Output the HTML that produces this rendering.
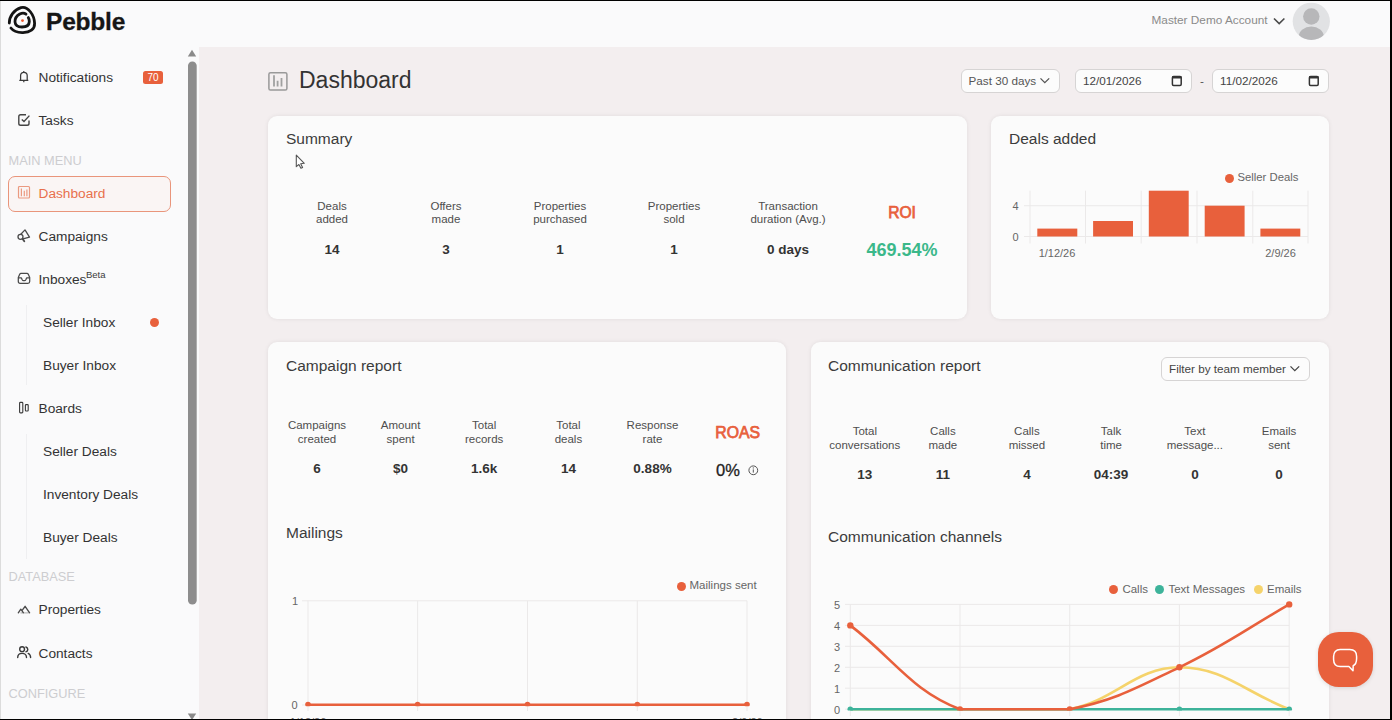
<!DOCTYPE html>
<html><head><meta charset="utf-8">
<style>
*{margin:0;padding:0;box-sizing:border-box}
html,body{width:1392px;height:720px;overflow:hidden;background:#f3eeef;font-family:"Liberation Sans",sans-serif;color:#333}
.a{position:absolute;line-height:1;white-space:nowrap}
.c{position:absolute;width:160px;text-align:center;white-space:nowrap}
#hdr{position:absolute;left:0;top:0;width:1392px;height:46.6px;background:#fafafb}
#side{position:absolute;left:0;top:46px;width:198.5px;height:674px;background:#fafafb}
.nav{font-size:13.7px;color:#333}
.sec{font-size:12.8px;color:#cdcdd0}
.card{position:absolute;background:#fbfbfb;border-radius:9px;box-shadow:0 0 4px rgba(0,0,0,0.08)}
.ttl{font-size:15.5px;color:#3c3c3c}
.lbl{font-size:11.5px;line-height:13.5px;color:#4e4e4e}
.val{font-size:13.5px;line-height:1;font-weight:bold;color:#333}
.box{position:absolute;background:#fcfcfc;border:1px solid #d6d4d4;border-radius:6px}
.ax{font-size:11px;color:#666}
</style></head><body>
<div id="hdr"></div>
<div id="side"></div>

<!-- header -->
<svg class="a" style="left:0;top:0" width="40" height="40" viewBox="0 0 40 40">
<path d="M9.3 23 C9.2 16.4 14 9.6 21 7.6 C28 5.8 34.4 15.2 34.6 23.4 C34.8 29.5 30 32.4 23 32.6 C17 32.8 13.2 31 10.9 28" fill="none" stroke="#141414" stroke-width="2.8" stroke-linecap="round"/>
<path d="M26 14.2 C24.4 12.9 21.9 12.9 19.8 14 C16.4 15.9 14.8 19.2 15 22 C15.3 25.4 18.5 27 22 27 C26 27 29.2 25.4 29.3 21.6 C29.3 19.8 29 18.6 28.3 17.6" fill="none" stroke="#141414" stroke-width="2.8" stroke-linecap="round"/>
<circle cx="22.5" cy="20.6" r="1.4" fill="#ee5a2f"/>
</svg>
<div class="a" style="left:46px;top:10px;font-size:24.5px;font-weight:bold;color:#161616;letter-spacing:-0.2px;-webkit-text-stroke:0.3px #161616">Pebble</div>
<div class="a" style="left:1151.5px;top:15.2px;font-size:11.8px;color:#8a8a8a">Master Demo Account</div>
<svg class="a" style="left:1272px;top:16px" width="15" height="10"><path d="M2 2.5 L7.2 7.6 L12.4 2.5" fill="none" stroke="#4a4a4a" stroke-width="1.6"/></svg>
<svg class="a" style="left:1292px;top:2px" width="39" height="39" viewBox="0 0 39 39">
<defs><clipPath id="av"><circle cx="19.3" cy="19.3" r="18.6"/></clipPath></defs>
<circle cx="19.3" cy="19.3" r="18.6" fill="#e1e2e4"/>
<g clip-path="url(#av)"><circle cx="19.3" cy="14.5" r="8.2" fill="#b7b7b9"/><ellipse cx="19.3" cy="34.5" rx="12.5" ry="10" fill="#b7b7b9"/></g>
</svg>

<!-- sidebar -->
<div style="position:absolute;left:26px;top:305px;width:1px;height:80px;background:#efeff1"></div>
<div style="position:absolute;left:26px;top:434px;width:1px;height:125px;background:#efeff1"></div>
<!-- scrollbar -->
<svg class="a" style="left:186px;top:47px" width="12" height="673">
<path d="M1.8 9.5 L10.2 9.5 L6 2.8 Z" fill="#8a8a8a"/>
<rect x="2" y="14.5" width="8.7" height="543" rx="4.3" fill="#8d8d8d"/>
<path d="M1.8 666.5 L10.2 666.5 L6 673 Z" fill="#8a8a8a"/>
</svg>

<svg class="a" style="left:17px;top:69px" width="14" height="15"><path d="M3.6 11.3 L3.6 6.6 C3.6 4.6 4.9 3.3 6.8 3.3 C8.7 3.3 10.2 4.6 10.2 6.6 L10.2 11.3 M2.3 11.4 L11.3 11.4 M6.8 1.9 V3.3 M6.8 12 V13.3" fill="none" stroke="#3a3a3a" stroke-width="1.25" stroke-linejoin="round"/></svg>
<div class="a nav" style="left:38.5px;top:70.9px">Notifications</div>
<div class="a" style="left:143px;top:70.5px;width:20px;height:13px;background:#e8603c;border-radius:2.5px;color:#fff;font-size:10px;line-height:13px;text-align:center">70</div>

<svg class="a" style="left:17px;top:113px" width="15" height="15"><path d="M12 7.5 L12 10.5 C12 11.6 11.3 12.3 10.2 12.3 L3.6 12.3 C2.5 12.3 1.8 11.6 1.8 10.5 L1.8 3.6 C1.8 2.5 2.5 1.8 3.6 1.8 L9 1.8" fill="none" stroke="#444" stroke-width="1.4"/><path d="M4.8 6.4 L7 8.5 L12.4 2.6" fill="none" stroke="#444" stroke-width="1.4"/></svg>
<div class="a nav" style="left:38.5px;top:113.7px">Tasks</div>

<div class="a sec" style="left:8.5px;top:155px">MAIN MENU</div>

<div style="position:absolute;left:8px;top:175.5px;width:163px;height:36px;border:1px solid #e9957b;border-radius:7px;background:#faf5f4"></div>
<svg class="a" style="left:17px;top:185px" width="14" height="14"><rect x="1.5" y="1.5" width="11" height="11.5" rx="1" fill="none" stroke="#eb9a80" stroke-width="1.2"/><path d="M4.4 3.4 V11.2 M7.3 5.8 V11.2 M9.9 4.6 V11.2" stroke="#eb9a80" stroke-width="1.2"/></svg>
<div class="a nav" style="left:38.5px;top:186.7px;color:#e8704c">Dashboard</div>

<svg class="a" style="left:14px;top:225px" width="20" height="20"><path d="M6.8 9.3 L11 4.9 L15.5 12.1 L9 13.9" fill="none" stroke="#4a4a4a" stroke-width="1.3" stroke-linejoin="round" stroke-linecap="round"/><circle cx="6.5" cy="11.8" r="2.5" fill="none" stroke="#4a4a4a" stroke-width="1.3"/><path d="M8.6 13.9 L10.3 16.3" stroke="#4a4a4a" stroke-width="1.8" stroke-linecap="round"/></svg>
<div class="a nav" style="left:38.5px;top:229.7px">Campaigns</div>

<svg class="a" style="left:17px;top:271px" width="15" height="14"><path d="M4 2.4 H10 C10.6 2.4 10.9 2.6 11.2 3.1 L12.7 6.4 V10.6 C12.7 11.7 12 12.4 10.9 12.4 H3.1 C2 12.4 1.3 11.7 1.3 10.6 V6.4 L2.8 3.1 C3.1 2.6 3.4 2.4 4 2.4 Z M1.3 6.9 H4.4 L5.2 8.7 C5.5 9.3 5.9 9.6 6.5 9.6 H7.5 C8.1 9.6 8.5 9.3 8.8 8.7 L9.6 6.9 H12.7" fill="none" stroke="#4a4a4a" stroke-width="1.25" stroke-linejoin="round"/></svg>
<div class="a nav" style="left:38.5px;top:272.7px">Inboxes</div>
<div class="a" style="left:86px;top:270px;font-size:9.5px;color:#3a3a3a">Beta</div>

<div class="a nav" style="left:43px;top:315.7px">Seller Inbox</div>
<div style="position:absolute;left:150px;top:317.7px;width:9px;height:9px;border-radius:50%;background:#e8603c"></div>
<div class="a nav" style="left:43px;top:358.7px">Buyer Inbox</div>

<svg class="a" style="left:17px;top:400px" width="14" height="15"><rect x="2.6" y="2.4" width="3.2" height="10.5" rx="0.8" fill="none" stroke="#3a3a3a" stroke-width="1.1"/><rect x="8.4" y="4.6" width="2.8" height="6.4" rx="0.7" fill="none" stroke="#3a3a3a" stroke-width="1.1"/></svg>
<div class="a nav" style="left:38.5px;top:401.7px">Boards</div>
<div class="a nav" style="left:43px;top:444.7px">Seller Deals</div>
<div class="a nav" style="left:43px;top:487.7px">Inventory Deals</div>
<div class="a nav" style="left:43px;top:530.7px">Buyer Deals</div>

<div class="a sec" style="left:8.5px;top:571.4px">DATABASE</div>
<svg class="a" style="left:16px;top:603px" width="16" height="13"><path d="M4.5 9.9 H12.8" stroke="#b0b0b0" stroke-width="1.1"/><path d="M2.3 9.8 L4.8 6.2 L7.3 9.7 M6.7 6.7 L9.1 3.3 L13.6 9.8" fill="none" stroke="#4a4a4a" stroke-width="1.35" stroke-linejoin="round" stroke-linecap="round"/></svg>
<div class="a nav" style="left:38.5px;top:603.3px">Properties</div>
<svg class="a" style="left:16px;top:645px" width="16" height="15"><circle cx="6.1" cy="4.2" r="2.4" fill="none" stroke="#3a3a3a" stroke-width="1.4"/><path d="M1.7 12.5 C1.7 9.8 3.5 8.4 6.1 8.4 C8.7 8.4 10.5 9.8 10.5 12.5" fill="none" stroke="#3a3a3a" stroke-width="1.4" stroke-linecap="round"/><path d="M9.9 2 C11.1 2.4 11.8 3.3 11.8 4.4 C11.8 5.5 11.1 6.4 9.9 6.8 M12.2 8.4 C13.8 9.2 14.6 10.6 14.6 12.5" fill="none" stroke="#3a3a3a" stroke-width="1.4" stroke-linecap="round"/></svg>
<div class="a nav" style="left:38.5px;top:646.8px">Contacts</div>
<div class="a sec" style="left:8.5px;top:688px">CONFIGURE</div>

<!-- page title -->
<svg class="a" style="left:267px;top:71px" width="22" height="21"><rect x="1.9" y="1.7" width="18" height="17.4" rx="1.6" fill="none" stroke="#999" stroke-width="1.5"/><path d="M7 4.2 V15.4 M10.6 9.8 V15.4 M14.5 6.9 V15.4" stroke="#a0a0a0" stroke-width="1.8"/></svg>
<div class="a" style="left:299px;top:69px;font-size:23px;color:#333">Dashboard</div>

<div class="box" style="left:961px;top:69px;width:99px;height:23.5px"></div>
<div class="a" style="left:968.5px;top:74.7px;font-size:11.7px;color:#555">Past 30 days</div>
<svg class="a" style="left:1039px;top:76px" width="12" height="9"><path d="M1.5 2.4 L5.8 6.6 L10.2 2.4" fill="none" stroke="#555" stroke-width="1.3"/></svg>
<div class="box" style="left:1075px;top:69px;width:116.5px;height:23.5px"></div>
<div class="a" style="left:1083px;top:74.5px;font-size:11.7px;color:#444">12/01/2026</div>
<svg class="a" style="left:1171px;top:75px" width="12" height="12"><rect x="1.4" y="1.6" width="8.8" height="8.8" rx="1.2" fill="none" stroke="#333" stroke-width="1.5"/><rect x="1" y="1" width="9.6" height="2.6" rx="1" fill="#333"/></svg>
<div class="a" style="left:1200px;top:75px;font-size:11.7px;color:#555">-</div>
<div class="box" style="left:1212px;top:69px;width:117px;height:23.5px"></div>
<div class="a" style="left:1220px;top:74.5px;font-size:11.7px;color:#444">11/02/2026</div>
<svg class="a" style="left:1308px;top:75px" width="12" height="12"><rect x="1.4" y="1.6" width="8.8" height="8.8" rx="1.2" fill="none" stroke="#333" stroke-width="1.5"/><rect x="1" y="1" width="9.6" height="2.6" rx="1" fill="#333"/></svg>

<!-- cards -->
<div class="card" style="left:268px;top:115.5px;width:698.5px;height:203px"></div>
<div class="card" style="left:991px;top:116px;width:337.5px;height:202.5px"></div>
<div class="card" style="left:268px;top:341.5px;width:518px;height:420px"></div>
<div class="card" style="left:810.5px;top:341.5px;width:518px;height:420px"></div>

<!-- summary -->
<div class="a ttl" style="left:286px;top:131px">Summary</div>
<svg class="a" style="left:294px;top:154px" width="12" height="16"><path d="M2.3 1.2 L2.3 12.7 L4.9 10.5 L6.9 14.3 L8.6 13.5 L6.7 9.7 L10.3 9.3 Z" fill="#fff" stroke="#555" stroke-width="1.1" stroke-linejoin="round"/></svg>

<div class="c lbl" style="left:252px;top:199.7px">Deals<br>added</div>
<div class="c lbl" style="left:366px;top:199.7px">Offers<br>made</div>
<div class="c lbl" style="left:480px;top:199.7px">Properties<br>purchased</div>
<div class="c lbl" style="left:594px;top:199.7px">Properties<br>sold</div>
<div class="c lbl" style="left:708px;top:199.7px">Transaction<br>duration (Avg.)</div>
<div class="c" style="left:822px;top:205.3px;font-size:15.6px;line-height:1;color:#e8603c;-webkit-text-stroke:0.75px #e8603c">ROI</div>
<div class="c val" style="left:252px;top:242.6px">14</div>
<div class="c val" style="left:366px;top:242.6px">3</div>
<div class="c val" style="left:480px;top:242.6px">1</div>
<div class="c val" style="left:594px;top:242.6px">1</div>
<div class="c val" style="left:708px;top:242.6px">0 days</div>
<div class="c" style="left:822px;top:240.5px;font-size:18px;line-height:1;font-weight:bold;color:#3bb88a">469.54%</div>

<!-- deals added -->
<div class="a ttl" style="left:1009px;top:131.1px">Deals added</div>
<div style="position:absolute;left:1224.5px;top:173.5px;width:9px;height:9px;border-radius:50%;background:#e8603c"></div>
<div class="a ax" style="left:1237.5px;top:172.1px;font-size:11.3px">Seller Deals</div>
<svg class="a" style="left:0;top:0" width="1392" height="720">
<g stroke="#ebe9e9" stroke-width="1">
<path d="M1030 190.7 V243.5 M1085.5 190.7 V243.5 M1141.2 190.7 V243.5 M1197 190.7 V243.5 M1252.8 190.7 V243.5 M1308 190.7 V243.5"/>
<path d="M1024 205.7 H1308 M1024 236.5 H1308"/>
</g>
<g fill="#e8603c">
<rect x="1037.3" y="228.6" width="40" height="7.9"/>
<rect x="1093.1" y="221" width="39.9" height="15.5"/>
<rect x="1148.8" y="190.7" width="39.9" height="45.8"/>
<rect x="1204.7" y="205.7" width="39.9" height="30.8"/>
<rect x="1260.4" y="228.6" width="39.9" height="7.9"/>
</g>

<!-- mailings chart -->
<g stroke="#ebe9e9" stroke-width="1">
<path d="M302 600.8 H747 M302 705 H747"/>
<path d="M308 600.8 V711 M417.6 600.8 V711 M527.5 600.8 V711 M637.3 600.8 V711 M747 600.8 V711"/>
</g>
<path d="M308 704.8 H747" stroke="#e8603c" stroke-width="2.6"/>
<defs><clipPath id="cm"><rect x="290" y="590" width="480" height="116.2"/></clipPath><clipPath id="cc"><rect x="840" y="590" width="470" height="120.6"/></clipPath></defs>
<g fill="#e8603c" clip-path="url(#cm)"><circle cx="308" cy="704.5" r="2.8"/><circle cx="417.6" cy="704.5" r="2.8"/><circle cx="527.5" cy="704.5" r="2.8"/><circle cx="637.3" cy="704.5" r="2.8"/><circle cx="747" cy="704.5" r="2.8"/></g>

<!-- channels chart -->
<g stroke="#ebe9e9" stroke-width="1">
<path d="M845 604.4 H1289.2 M845 625.4 H1289.2 M845 646.3 H1289.2 M845 667.3 H1289.2 M845 688.2 H1289.2 M845 709.2 H1289.2"/>
<path d="M850.3 604.4 V716 M960 604.4 V716 M1069.7 604.4 V716 M1179.4 604.4 V716 M1289.2 604.4 V716"/>
</g>
<path d="M850.3 709.2 C894.2 709.2 916.1 709.2 960.0 709.2 C1003.9 709.2 1027.3 709.2 1069.7 709.2 C1115.1 700.5 1135.5 667.3 1179.4 667.3 C1223.3 667.3 1245.3 692.4 1289.2 709.2" fill="none" stroke="#f5d36b" stroke-width="2.6"/>
<path d="M850.3 709.2 H1289.2" fill="none" stroke="#3db39a" stroke-width="2.6"/>
<g fill="#3db39a" clip-path="url(#cc)"><circle cx="850.3" cy="709.2" r="2.8"/><circle cx="1179.4" cy="709.2" r="2.8"/><circle cx="1289.2" cy="709.2" r="2.8"/></g>
<path d="M850.3 625.4 C894.2 658.9 911.1 690.5 960.0 709.2 C998.9 709.2 1027.3 709.2 1069.7 709.2 C1115.1 700.5 1137.1 687.5 1179.4 667.3 C1224.9 645.5 1245.3 629.6 1289.2 604.4" fill="none" stroke="#e8603c" stroke-width="2.6"/>
<g fill="#e8603c" clip-path="url(#cc)"><circle cx="850.3" cy="625.4" r="3.2"/><circle cx="960" cy="709.2" r="3"/><circle cx="1069.7" cy="709.2" r="3"/><circle cx="1179.4" cy="667.3" r="3.2"/><circle cx="1289.2" cy="604.4" r="3.2"/></g>
</svg>
<div class="a ax" style="left:1012.5px;top:201px">4</div>
<div class="a ax" style="left:1012.5px;top:231.5px">0</div>
<div class="c ax" style="left:1027px;top:247.7px;width:60px;line-height:1">1/12/26</div>
<div class="c ax" style="left:1250.5px;top:247.7px;width:60px;line-height:1">2/9/26</div>

<!-- campaign report -->
<div class="a ttl" style="left:286px;top:357.6px">Campaign report</div>
<div class="c lbl" style="left:237px;top:419.1px">Campaigns<br>created</div>
<div class="c lbl" style="left:320.6px;top:419.1px">Amount<br>spent</div>
<div class="c lbl" style="left:404.2px;top:419.1px">Total<br>records</div>
<div class="c lbl" style="left:488.4px;top:419.1px">Total<br>deals</div>
<div class="c lbl" style="left:572.5px;top:419.1px">Response<br>rate</div>
<div class="a" style="left:715.3px;top:425.2px;font-size:15.8px;line-height:1;color:#e8603c;-webkit-text-stroke:0.75px #e8603c">ROAS</div>
<div class="c val" style="left:237px;top:462px">6</div>
<div class="c val" style="left:320.6px;top:462px">$0</div>
<div class="c val" style="left:404.2px;top:462px">1.6k</div>
<div class="c val" style="left:488.4px;top:462px">14</div>
<div class="c val" style="left:572.5px;top:462px">0.88%</div>
<div class="a" style="left:716px;top:461.6px;font-size:16.5px;color:#222;-webkit-text-stroke:0.3px #222">0%</div>
<svg class="a" style="left:747px;top:464px" width="12" height="12"><circle cx="6.3" cy="6.3" r="4.4" fill="none" stroke="#555" stroke-width="1"/><path d="M6.3 5.4 V8.6" stroke="#555" stroke-width="1"/><circle cx="6.3" cy="3.9" r="0.6" fill="#555"/></svg>

<div class="a ttl" style="left:286px;top:524.9px">Mailings</div>
<div style="position:absolute;left:676.5px;top:581.6px;width:9px;height:9px;border-radius:50%;background:#e8603c"></div>
<div class="a ax" style="left:689.5px;top:580.3px;font-size:11.5px">Mailings sent</div>
<div class="a ax" style="left:292px;top:596px">1</div>
<div class="a ax" style="left:291.5px;top:700px">0</div>
<div class="c ax" style="left:278px;top:717px;width:60px;line-height:1">1/12/26</div>
<div class="c ax" style="left:717.4px;top:717px;width:60px;line-height:1">2/9/26</div>

<!-- communication report -->
<div class="a ttl" style="left:828px;top:357.6px">Communication report</div>
<div class="box" style="left:1161px;top:357px;width:148.5px;height:23.5px"></div>
<div class="a" style="left:1169px;top:362.5px;font-size:11.7px;color:#444">Filter by team member</div>
<svg class="a" style="left:1288.5px;top:364px" width="12" height="9"><path d="M1.5 2.4 L5.8 6.6 L10.2 2.4" fill="none" stroke="#444" stroke-width="1.3"/></svg>

<div class="c lbl" style="left:784.8px;top:425px">Total<br>conversations</div>
<div class="c lbl" style="left:862.9px;top:425px">Calls<br>made</div>
<div class="c lbl" style="left:946.9px;top:425px">Calls<br>missed</div>
<div class="c lbl" style="left:1031.1px;top:425px">Talk<br>time</div>
<div class="c lbl" style="left:1114.9px;top:425px">Text<br>message...</div>
<div class="c lbl" style="left:1199.1px;top:425px">Emails<br>sent</div>
<div class="c val" style="left:784.8px;top:468.3px">13</div>
<div class="c val" style="left:862.9px;top:468.3px">11</div>
<div class="c val" style="left:946.9px;top:468.3px">4</div>
<div class="c val" style="left:1031.1px;top:468.3px">04:39</div>
<div class="c val" style="left:1114.9px;top:468.3px">0</div>
<div class="c val" style="left:1199.1px;top:468.3px">0</div>

<div class="a ttl" style="left:828px;top:528.6px">Communication channels</div>
<div style="position:absolute;left:1109.4px;top:585.2px;width:9px;height:9px;border-radius:50%;background:#e8603c"></div>
<div class="a ax" style="left:1122.4px;top:584px;font-size:11.5px">Calls</div>
<div style="position:absolute;left:1154.9px;top:585.2px;width:9px;height:9px;border-radius:50%;background:#3db39a"></div>
<div class="a ax" style="left:1168.4px;top:584px;font-size:11.5px">Text Messages</div>
<div style="position:absolute;left:1254px;top:585.2px;width:9px;height:9px;border-radius:50%;background:#f5d36b"></div>
<div class="a ax" style="left:1267px;top:584px;font-size:11.5px">Emails</div>
<div class="a ax" style="left:834px;top:599.5px">5</div>
<div class="a ax" style="left:834px;top:620.5px">4</div>
<div class="a ax" style="left:834px;top:641.5px">3</div>
<div class="a ax" style="left:834px;top:662.5px">2</div>
<div class="a ax" style="left:834px;top:683.5px">1</div>
<div class="a ax" style="left:834px;top:704.5px">0</div>

<!-- chat button -->
<div style="position:absolute;left:1318px;top:632px;width:55px;height:55px;border-radius:21px;background:#e8603c;box-shadow:0 1px 4px rgba(0,0,0,0.12)"></div>
<svg class="a" style="left:1330px;top:646px" width="30" height="28"><path d="M10.2 3.6 H19.8 C24.4 3.6 26.6 6.2 26.6 10.6 V12.6 C26.6 16.4 25.4 18.8 23.2 19.8 L23 24.8 L18.9 20.6 H10.2 C5.8 20.6 3.6 18 3.6 13.6 V10.6 C3.6 6.2 5.8 3.6 10.2 3.6 Z" fill="none" stroke="#fff" stroke-width="1.5" stroke-linejoin="round"/></svg>

<!-- frame -->
<div style="position:absolute;left:0;top:0;width:1392px;height:1px;background:#000"></div>
<div style="position:absolute;left:1390px;top:0;width:2px;height:720px;background:#000"></div>
<div style="position:absolute;left:0;top:719px;width:1392px;height:1px;background:#000"></div>
<div style="position:absolute;left:0;top:1px;width:1px;height:718px;background:#dcdcdc"></div>

</body></html>
